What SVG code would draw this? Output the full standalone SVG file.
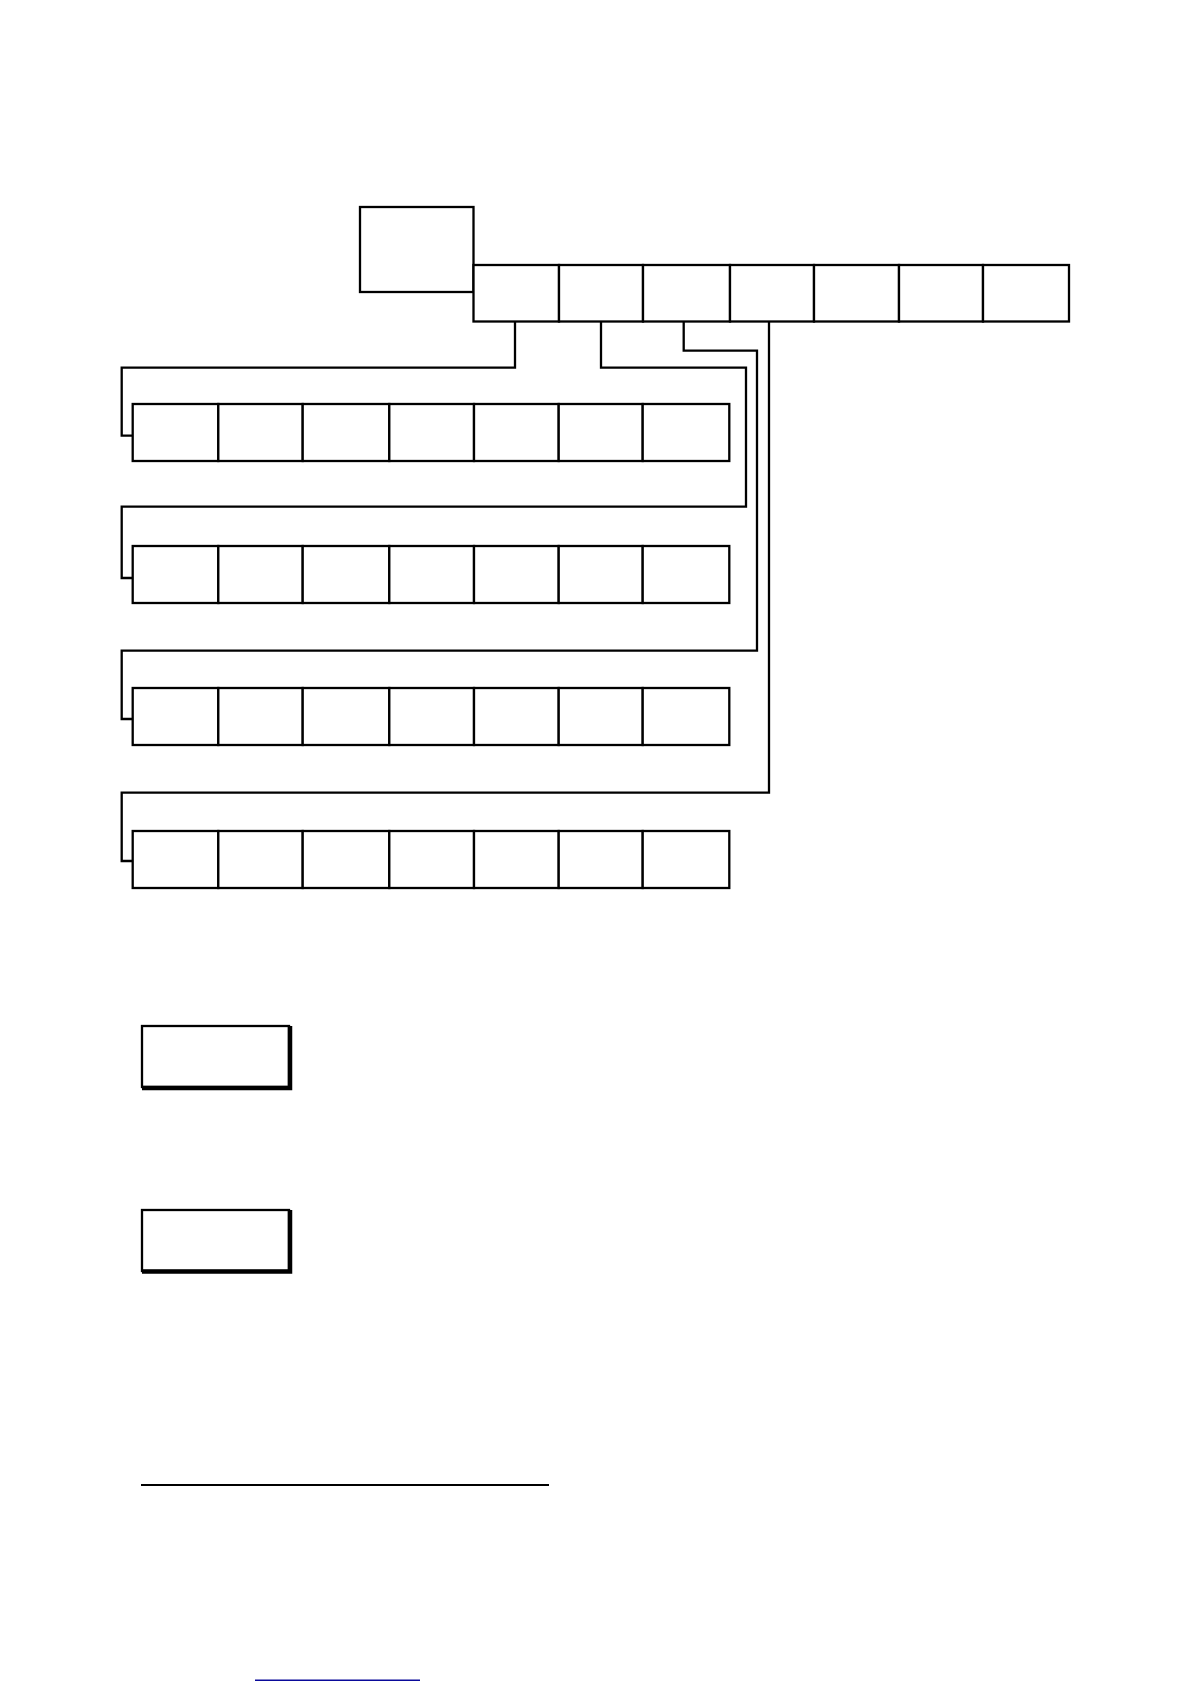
<svg xmlns="http://www.w3.org/2000/svg" width="1190" height="1684" viewBox="0 0 1190 1684">
<style>
.cell{fill:#fff;stroke:#000;stroke-width:2.3}
.conn{fill:none;stroke:#000;stroke-width:2.3}
.sh{fill:none;stroke:#000;stroke-width:4.5}
</style>
<rect width="1190" height="1684" fill="#fff"/>
<g id="root"><rect class="cell" x="360" y="207" width="113.5" height="85"/></g>
<g id="top-row">
<rect id="t1" class="cell" x="473.5" y="265" width="85.5" height="56.5"/>
<rect id="t2" class="cell" x="559" y="265" width="84" height="56.5"/>
<rect id="t3" class="cell" x="643" y="265" width="87" height="56.5"/>
<rect id="t4" class="cell" x="730" y="265" width="84" height="56.5"/>
<rect id="t5" class="cell" x="814" y="265" width="85" height="56.5"/>
<rect id="t6" class="cell" x="899" y="265" width="84" height="56.5"/>
<rect id="t7" class="cell" x="983" y="265" width="86" height="56.5"/>
</g>
<g id="row1">
<rect class="cell" x="132.7" y="404" width="85.6" height="57"/>
<rect class="cell" x="218.3" y="404" width="84.4" height="57"/>
<rect class="cell" x="302.7" y="404" width="86.6" height="57"/>
<rect class="cell" x="389.3" y="404" width="84.7" height="57"/>
<rect class="cell" x="474" y="404" width="84.7" height="57"/>
<rect class="cell" x="558.7" y="404" width="84" height="57"/>
<rect class="cell" x="642.7" y="404" width="86.6" height="57"/>
</g>
<g id="row2">
<rect class="cell" x="132.7" y="546" width="85.6" height="57"/>
<rect class="cell" x="218.3" y="546" width="84.4" height="57"/>
<rect class="cell" x="302.7" y="546" width="86.6" height="57"/>
<rect class="cell" x="389.3" y="546" width="84.7" height="57"/>
<rect class="cell" x="474" y="546" width="84.7" height="57"/>
<rect class="cell" x="558.7" y="546" width="84" height="57"/>
<rect class="cell" x="642.7" y="546" width="86.6" height="57"/>
</g>
<g id="row3">
<rect class="cell" x="132.7" y="688" width="85.6" height="57"/>
<rect class="cell" x="218.3" y="688" width="84.4" height="57"/>
<rect class="cell" x="302.7" y="688" width="86.6" height="57"/>
<rect class="cell" x="389.3" y="688" width="84.7" height="57"/>
<rect class="cell" x="474" y="688" width="84.7" height="57"/>
<rect class="cell" x="558.7" y="688" width="84" height="57"/>
<rect class="cell" x="642.7" y="688" width="86.6" height="57"/>
</g>
<g id="row4">
<rect class="cell" x="132.7" y="831" width="85.6" height="57"/>
<rect class="cell" x="218.3" y="831" width="84.4" height="57"/>
<rect class="cell" x="302.7" y="831" width="86.6" height="57"/>
<rect class="cell" x="389.3" y="831" width="84.7" height="57"/>
<rect class="cell" x="474" y="831" width="84.7" height="57"/>
<rect class="cell" x="558.7" y="831" width="84" height="57"/>
<rect class="cell" x="642.7" y="831" width="86.6" height="57"/>
</g>
<g id="connectors">
<path class="conn" d="M515,321.5 V367.7 H121.7 V435.7 H132.7"/>
<path class="conn" d="M601,321.5 V367.7 H746 V506.7 H121.7 V578 H132.7"/>
<path class="conn" d="M683.7,321.5 V350.7 H757 V650.7 H121.7 V719 H132.7"/>
<path class="conn" d="M769,321.5 V792.7 H121.7 V861 H132.7"/>
</g>
<g id="box-a">
<rect class="cell" x="142" y="1026" width="147" height="61"/>
<path class="sh" d="M290,1026 V1088 H142"/>
</g>
<g id="box-b">
<rect class="cell" x="142" y="1210" width="147" height="61"/>
<path class="sh" d="M290,1210 V1271.5 H142"/>
</g>
<line x1="141" y1="1485" x2="549" y2="1485" stroke="#000" stroke-width="2.2"/>
<line x1="255" y1="1680.3" x2="420" y2="1680.3" stroke="#0a0a9a" stroke-width="1.6"/>
</svg>
